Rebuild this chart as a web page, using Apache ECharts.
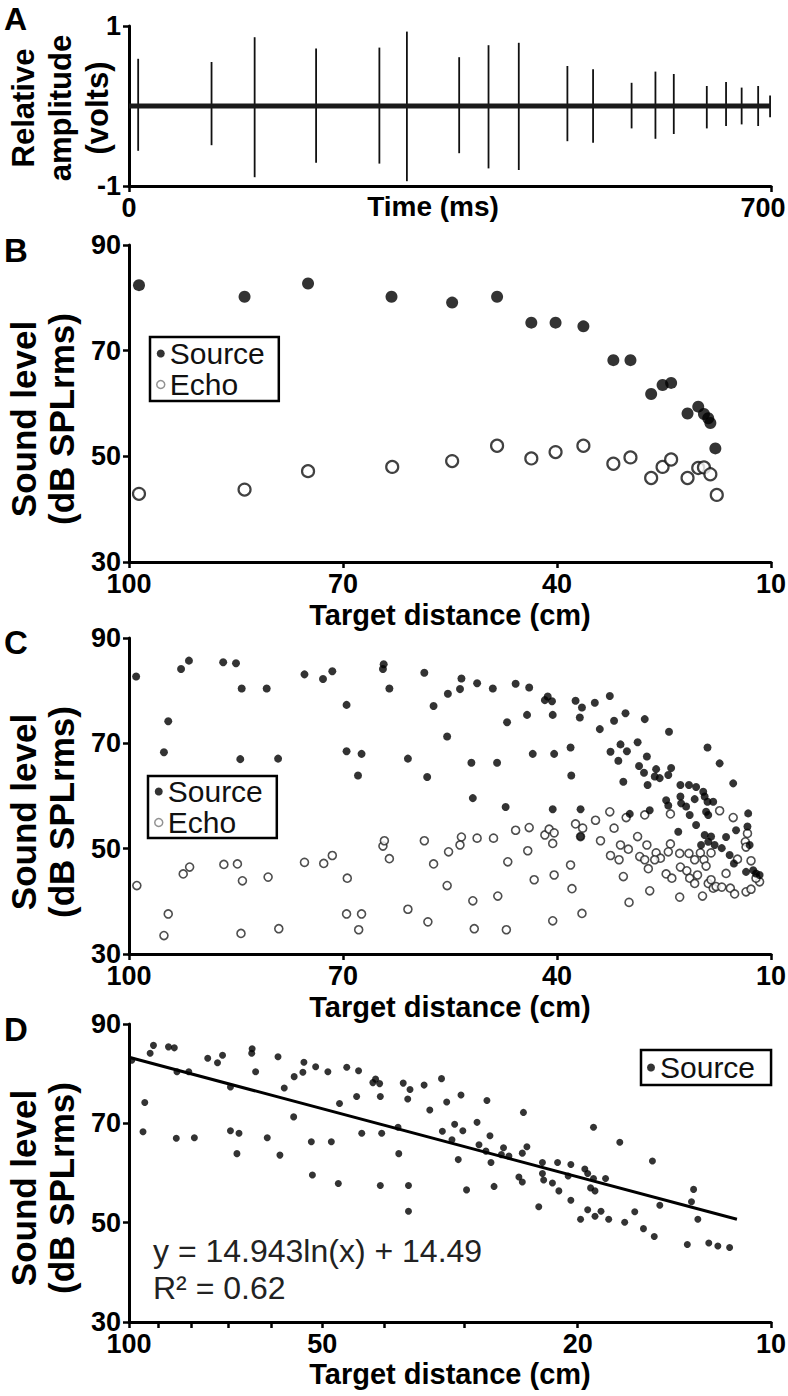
<!DOCTYPE html>
<html><head><meta charset="utf-8">
<script src="https://cdn.jsdelivr.net/npm/echarts@6/dist/echarts.min.js"></script>
<style>html,body{margin:0;padding:0;background:#fff}#main{width:788px;height:1396px}</style>
</head><body><div id="main"></div>
<script>
// ---------- Panel A: call train ----------
const timeRange = [0, 700];
const pulseTimes = [10, 90, 137, 204, 273, 303, 360, 392, 425, 478, 506, 548, 574, 594, 630, 651, 668, 686, 699];
const pulsePos = [0.59, 0.55, 0.86, 0.72, 0.73, 0.93, 0.61, 0.76, 0.79, 0.50, 0.46, 0.29, 0.43, 0.40, 0.25, 0.30, 0.23, 0.25, 0.13];
const pulseNeg = [-0.56, -0.49, -0.89, -0.71, -0.72, -0.94, -0.59, -0.78, -0.80, -0.44, -0.46, -0.28, -0.41, -0.35, -0.28, -0.25, -0.23, -0.25, -0.14];

// ---------- Panel B: single trial ----------
const bSource = [[98.6,82.4],[83.8,80.2],[74.9,82.7],[63.2,80.2],[54.7,79.1],[48.4,80.2],[43.6,75.3],[40.2,75.3],[36.3,74.6],[32.1,68.2],[29.7,68.2],[26.8,61.8],[25.2,63.5],[24.0,63.9],[21.7,58.1],[20.2,59.4],[19.4,58.0],[18.8,57.2],[18.5,56.3],[17.8,51.5]];
const bEcho = [[98.6,42.9],[83.8,43.7],[74.9,47.2],[63.1,48.0],[54.7,49.1],[48.4,52.0],[43.6,49.6],[40.2,50.8],[36.3,52.0],[32.1,48.6],[29.7,49.8],[26.8,45.9],[25.2,48.0],[24.0,49.4],[21.7,45.9],[20.2,47.8],[19.4,47.9],[18.5,46.6],[17.6,42.7]];

// ---------- Panel C / D: all trials ----------
const cSource = [[99.0,82.7],[94.5,74.2],[95.1,68.3],[92.7,84.1],[91.6,85.7],[86.8,85.4],[85.0,85.2],[84.2,80.4],[80.7,80.4],[84.4,67.0],[79.1,67.1],[75.4,83.1],[72.8,82.2],[71.5,83.7],[69.5,77.3],[69.5,68.5],[67.4,68.0],[67.9,63.9],[64.3,85.0],[64.4,84.1],[63.5,80.4],[60.9,67.1],[58.6,83.4],[57.3,77.1],[55.3,79.4],[55.4,71.3],[58.2,63.6],
[53.4,82.3],[53.6,80.3],[51.2,81.4],[49.0,80.4],[45.8,81.3],[43.9,80.6],[47.0,74.0],[44.2,75.4],[41.7,78.2],[41.3,78.9],[40.7,78.0],[40.6,75.4],[37.4,78.1],[36.5,76.8],[36.8,74.9],[34.7,77.7],[32.6,79.0],[34.0,72.7],[32.0,74.3],[30.4,75.7],[27.7,74.6],[24.3,72.2],[52.0,66.3],[48.4,66.3],[43.4,68.0],[40.4,68.0],[38.1,69.2],[38.0,63.9],[32.5,68.4],[31.1,69.8],[30.2,68.5],[31.4,66.7],[28.7,70.2],[27.4,67.5],[30.7,62.7],[28.5,65.7],[27.8,64.4],[27.3,62.1],[26.1,65.1],[26.3,63.7],[25.6,63.4],[24.0,65.3],[24.4,64.0],[18.9,69.2],[17.2,66.2],[15.3,62.4],[51.8,59.6],[47.2,57.9],[40.6,57.5],[36.7,57.5],[22.7,62.1],[21.5,62.1],[20.5,61.7],[19.5,60.8],[19.3,59.9],[22.7,59.9],[24.7,59.2],[22.6,58.6],[20.7,59.4],[18.9,58.9],[18.1,58.9],[24.4,58.2],[21.9,58.0],[19.1,57.0],[29.8,56.6],[27.0,57.3],[13.2,56.7],[21.4,56.4],[18.8,56.4],
[20.5,54.5],[23.0,53.2],[19.3,52.6],[18.4,52.3],[18.8,51.3],[19.8,50.7],[17.9,50.7],[16.3,52.2],[14.9,53.5],[13.3,54.2],[16.9,50.1],[15.8,48.8],[15.2,47.2],[13.0,50.7],[13.5,45.6],[12.5,45.9],[12.1,45.3],[11.6,45.0],[36.7,52.3]];
const cEcho = [[98.9,43.0],[94.5,37.6],[95.1,33.5],[92.4,45.2],[91.5,46.5],[86.7,47.0],[84.8,47.1],[84.1,43.9],[84.3,33.9],[80.5,44.6],[79.0,34.8],[75.4,47.4],[72.7,47.2],[71.5,48.7],[69.4,44.4],[69.5,37.6],[67.4,37.6],[67.8,34.6],[64.4,50.5],[64.2,51.5],[63.5,48.1],[60.9,38.5],[58.6,51.5],[58.1,36.1],[57.3,47.1],[55.2,49.4],[55.4,43.0],
[53.4,52.2],[53.6,50.7],[51.2,52.0],[48.9,52.0],[51.8,40.1],[51.6,34.8],[48.3,41.0],[47.1,34.6],[46.9,47.5],[45.8,53.5],[43.9,54.0],[44.1,49.6],[43.2,44.1],[41.7,52.6],[41.1,53.7],[40.4,53.0],[40.6,51.0],[40.4,45.0],[40.6,36.3],[38.1,46.9],[37.9,42.4],[37.4,54.7],[36.4,53.9],[36.7,52.3],[36.5,37.7],[34.6,55.4],[32.6,57.0],[32.0,53.9],[33.9,51.5],[32.5,48.7],[31.3,47.9],[31.1,50.7],[30.0,49.9],[30.7,44.7],[29.9,39.8],[30.3,55.9],[27.7,56.4],[28.7,52.3],[27.4,50.7],[28.4,48.5],[27.7,47.9],[27.2,46.2],[27.0,42.0],[26.1,49.2],[25.5,48.2],[26.3,47.9],[24.7,45.2],[23.9,44.4],[24.1,56.6],[24.1,50.9],[24.4,49.4],[22.8,49.1],[22.7,46.5],[22.8,40.8],[21.8,45.8],[21.5,49.1],[20.7,47.9],[21.4,44.4],[20.7,43.4],[20.3,45.0],[19.6,41.0],[19.9,49.2],[19.4,47.9],[18.4,49.2],[19.1,46.7],[18.8,43.4],[18.1,42.5],[18.4,44.1],[17.7,42.8],[16.9,42.7],[15.7,42.5],[15.1,41.4],[16.3,45.3],[14.7,48.0],[17.2,57.2],[15.3,55.9],[13.6,51.3],[13.3,52.9],[12.8,47.7],[13.5,50.3],[13.5,41.8],[12.8,42.3],[11.6,43.7],[12.1,44.4]];
// logarithmic fit y = 14.943ln(x) + 14.49, endpoints
const dFit = [[100, 83.3], [11.3, 50.7]];

const logTicks = [100, 90, 80, 70, 60, 50, 40, 30, 20, 10];
const logLabels = [100, 50, 20, 10];

const FONT = '"Liberation Sans", Arial, Helvetica, sans-serif';
const BOLD = { color: '#000', fontFamily: FONT, fontWeight: 'bold', fontSize: 27 };
const TICK = { length: 6, lineStyle: { color: '#000', width: 2.5 } };

function xLabel(extra) { return Object.assign({ margin: 11, lineHeight: 22 }, BOLD, extra || {}); }
function yLabel(extra) { return Object.assign({ margin: 8, lineHeight: 22 }, BOLD, extra || {}); }
const nameStyle = Object.assign({}, BOLD, { fontSize: 29, lineHeight: 26 });

function baseAxis(extra) {
  return Object.assign({
    axisLine: { onZero: false, lineStyle: { color: '#000', width: 3 } },
    axisTick: TICK,
    splitLine: { show: false },
    nameMoveOverlap: false,
    nameTextStyle: nameStyle
  }, extra);
}

const grids = [
  { left: 129, top: 26, width: 642, height: 160, outerBoundsMode: 'none', containLabel: false },
  { left: 129, top: 245, width: 642, height: 317, outerBoundsMode: 'none', containLabel: false },
  { left: 129, top: 638, width: 642, height: 316, outerBoundsMode: 'none', containLabel: false },
  { left: 129, top: 1024, width: 642, height: 298, outerBoundsMode: 'none', containLabel: false }
];

const xAxes = [
  baseAxis({ gridIndex: 0, type: 'value', min: timeRange[0], max: timeRange[1],
    axisTick: Object.assign({ customValues: [0, 700] }, TICK),
    axisLabel: xLabel({ margin: 11, customValues: [0, 700],
      formatter: v => v === 700 ? '{r|700}' : String(v),
      rich: { r: Object.assign({ padding: [0, 16, 0, 0], lineHeight: 22 }, BOLD) } }),
    name: 'Time (ms)', nameLocation: 'middle', nameGap: 9,
    nameTextStyle: Object.assign({}, nameStyle, { fontSize: 28, lineHeight: 22, padding: [0, 34, 0, 0] }) }),
  baseAxis({ gridIndex: 1, type: 'value', min: 10, max: 100, interval: 30, inverse: true,
    axisLabel: xLabel(), name: 'Target distance (cm)', nameLocation: 'middle', nameGap: 40 }),
  baseAxis({ gridIndex: 2, type: 'value', min: 10, max: 100, interval: 30, inverse: true,
    axisLabel: xLabel(), name: 'Target distance (cm)', nameLocation: 'middle', nameGap: 40 }),
  baseAxis({ gridIndex: 3, type: 'log', logBase: 10, min: 10, max: 100, inverse: true,
    axisTick: Object.assign({ customValues: logTicks }, TICK),
    axisLabel: xLabel({ customValues: logLabels }),
    name: 'Target distance (cm)', nameLocation: 'middle', nameGap: 39 })
];

const yAxes = [
  baseAxis({ gridIndex: 0, type: 'value', min: -1, max: 1,
    axisTick: Object.assign({ customValues: [-1, 1] }, TICK),
    axisLabel: yLabel({ customValues: [-1, 1] }) }),
  baseAxis({ gridIndex: 1, type: 'value', min: 30, max: 90, interval: 20, axisLabel: yLabel() }),
  baseAxis({ gridIndex: 2, type: 'value', min: 30, max: 90, interval: 20, axisLabel: yLabel() }),
  baseAxis({ gridIndex: 3, type: 'value', min: 30, max: 90, interval: 20, axisLabel: yLabel() })
];

const legendText = { fontFamily: FONT, fontSize: 30, color: '#111', lineHeight: 31 };
const legendData = [
  { name: 'Source', icon: 'circle', itemStyle: { color: '#000' } },
  { name: 'Echo', icon: 'circle', itemStyle: { color: '#fff', borderColor: '#777', borderWidth: 1.5 } }
];

const option = {
  animation: false,
  backgroundColor: '#fff',
  grid: grids,
  xAxis: xAxes,
  yAxis: yAxes,
  legend: [
    { left: 150, top: 337, orient: 'vertical', data: legendData, itemWidth: 8, itemHeight: 8, itemGap: 0,
      padding: [1, 14, 1, 6], borderColor: '#000', borderWidth: 2.5, textStyle: legendText, selectedMode: false },
    { left: 148, top: 776, orient: 'vertical', data: legendData, itemWidth: 8, itemHeight: 8, itemGap: 0,
      padding: [0, 14, 0, 6], borderColor: '#000', borderWidth: 2.5, textStyle: legendText, selectedMode: false },
    { left: 641, top: 1050, orient: 'vertical', data: [legendData[0]], itemWidth: 8, itemHeight: 8, itemGap: 0,
      padding: [2, 16, 2, 6], borderColor: '#000', borderWidth: 2.5, textStyle: legendText, selectedMode: false }
  ],
  graphic: [
    { type: 'text', x: 4, y: 19, style: { text: 'A', font: 'bold 32px ' + FONT, fill: '#000', verticalAlign: 'middle' } },
    { type: 'text', x: 4, y: 250, style: { text: 'B', font: 'bold 33px ' + FONT, fill: '#000', verticalAlign: 'middle' } },
    { type: 'text', x: 4, y: 642, style: { text: 'C', font: 'bold 33px ' + FONT, fill: '#000', verticalAlign: 'middle' } },
    { type: 'text', x: 4, y: 1029, style: { text: 'D', font: 'bold 33px ' + FONT, fill: '#000', verticalAlign: 'middle' } },
    { type: 'text', x: 60, y: 108, rotation: Math.PI / 2,
      style: { text: 'Relative\namplitude\n(volts)', font: 'bold 31px ' + FONT, lineHeight: 37, fill: '#000', align: 'center', verticalAlign: 'middle' } },
    { type: 'text', x: 42, y: 419, rotation: Math.PI / 2,
      style: { text: 'Sound level\n(dB SPLrms)', font: 'bold 35px ' + FONT, lineHeight: 38, fill: '#000', align: 'center', verticalAlign: 'middle' } },
    { type: 'text', x: 42, y: 812, rotation: Math.PI / 2,
      style: { text: 'Sound level\n(dB SPLrms)', font: 'bold 35px ' + FONT, lineHeight: 38, fill: '#000', align: 'center', verticalAlign: 'middle' } },
    { type: 'text', x: 42, y: 1188, rotation: Math.PI / 2,
      style: { text: 'Sound level\n(dB SPLrms)', font: 'bold 35px ' + FONT, lineHeight: 38, fill: '#000', align: 'center', verticalAlign: 'middle' } },
    { type: 'text', x: 153, y: 1232,
      style: { text: 'y = 14.943ln(x) + 14.49\nR\u00B2 = 0.62', font: '32px ' + FONT, lineHeight: 37, fill: '#222' } }
  ],
  series: [
    { type: 'line', xAxisIndex: 0, yAxisIndex: 0, symbol: 'none', silent: true,
      data: [[timeRange[0], 0], [timeRange[1], 0]], lineStyle: { color: '#1a1a1a', width: 5 } },
    { type: 'custom', xAxisIndex: 0, yAxisIndex: 0, silent: true,
      data: pulseTimes.map((t, i) => [t, pulsePos[i], pulseNeg[i]]),
      encode: { x: 0, y: [1, 2] },
      renderItem: function (params, api) {
        const p1 = api.coord([api.value(0), api.value(1)]);
        const p2 = api.coord([api.value(0), api.value(2)]);
        return { type: 'line', shape: { x1: p1[0], y1: p1[1], x2: p2[0], y2: p2[1] },
          style: { stroke: '#111', lineWidth: 1.8 } };
      } },
    { name: 'Echo', type: 'scatter', xAxisIndex: 1, yAxisIndex: 1, data: bEcho, symbol: 'circle', symbolSize: 12,
      itemStyle: { color: '#fff', borderColor: '#111', borderWidth: 2.2 } },
    { name: 'Source', type: 'scatter', xAxisIndex: 1, yAxisIndex: 1, data: bSource, symbol: 'circle', symbolSize: 12,
      itemStyle: { color: '#000' } },
    { name: 'Echo', type: 'scatter', xAxisIndex: 2, yAxisIndex: 2, data: cEcho, symbol: 'circle', symbolSize: 8,
      itemStyle: { color: '#fff', borderColor: '#222', borderWidth: 1.6 } },
    { name: 'Source', type: 'scatter', xAxisIndex: 2, yAxisIndex: 2, data: cSource, symbol: 'circle', symbolSize: 8,
      itemStyle: { color: '#000' } },
    { name: 'Source', type: 'scatter', xAxisIndex: 3, yAxisIndex: 3, data: cSource, symbol: 'circle', symbolSize: 7,
      itemStyle: { color: '#000' } },
    { name: 'Fit', type: 'line', xAxisIndex: 3, yAxisIndex: 3, data: dFit, symbol: 'none', silent: true,
      lineStyle: { color: '#000', width: 3 } }
  ]
};

const chart = echarts.init(document.getElementById('main'), null, { renderer: 'svg', width: 788, height: 1396 });
chart.setOption(option);
</script></body></html>
